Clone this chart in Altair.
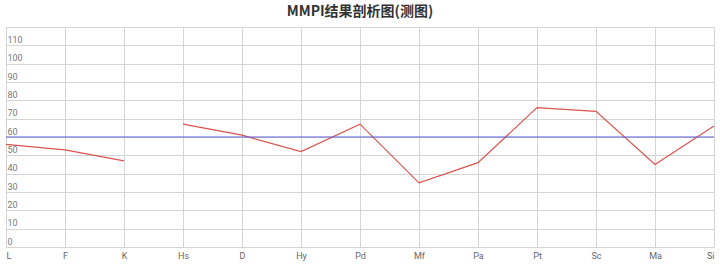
import altair as alt
import pandas as pd

scales = ["L", "F", "K", "Hs", "D", "Hy", "Pd", "Mf", "Pa", "Pt", "Sc", "Ma", "Si"]
scores = [56, 53, 47, 67, 61, 52, 67, 35, 46, 76, 74, 45, 66]
segment = [1, 1, 1, 2, 2, 2, 2, 2, 2, 2, 2, 2, 2]
reference_value = [60]
y_ticks = list(range(0, 121, 10))

df = pd.DataFrame({"scale": scales, "score": scores, "seg": segment})
ref = pd.DataFrame({"y": reference_value})

x_enc = alt.X(
    "scale:N",
    sort=scales,
    scale=alt.Scale(type="point", padding=0),
    axis=alt.Axis(
        title=None, grid=True, gridColor="#d4d4d8", ticks=False, domain=False,
        labelAngle=0, labelFlush=True, labelFontSize=9, labelColor="#666666",
        labelPadding=4, labelFont="Roboto",
    ),
)
y_scale = alt.Scale(domain=[0, 120], nice=False)
y_axis = alt.Axis(
    title=None, values=y_ticks, grid=True, gridColor="#d4d4d4",
    ticks=False, domain=False, labelAlign="left", labelPadding=-1,
    labelBaseline="alphabetic", labelOffset=-3, labelFontSize=9,
    labelColor="#777777", labelFont="Roboto", labelOverlap=False,
    labelExpr="datum.value == 120 ? '' : datum.label",
)

line = alt.Chart(df).mark_line(color="#d9534f", strokeWidth=1.2).encode(
    x=x_enc,
    y=alt.Y("score:Q", scale=y_scale, axis=y_axis),
    detail="seg:N",
)

rule = alt.Chart(ref).mark_rule(color="#5c5cd6", strokeWidth=1.2).encode(
    y=alt.Y("y:Q", scale=y_scale, axis=y_axis),
)

chart = alt.layer(line, rule).properties(
    width=708, height=220,
    autosize=alt.AutoSizeParams(type="none"),
    padding={"left": 6, "top": 27, "right": 6, "bottom": 20},
    title=alt.TitleParams(
        "MMPI结果剖析图(测图)", anchor="middle", fontSize=14, fontWeight="bold",
        font="Noto Sans CJK SC", color="#333333", offset=9, dy=11,
    ),
).configure_view(stroke=None)

chart.save("out.html", embed_options={"renderer": "svg", "actions": False})
